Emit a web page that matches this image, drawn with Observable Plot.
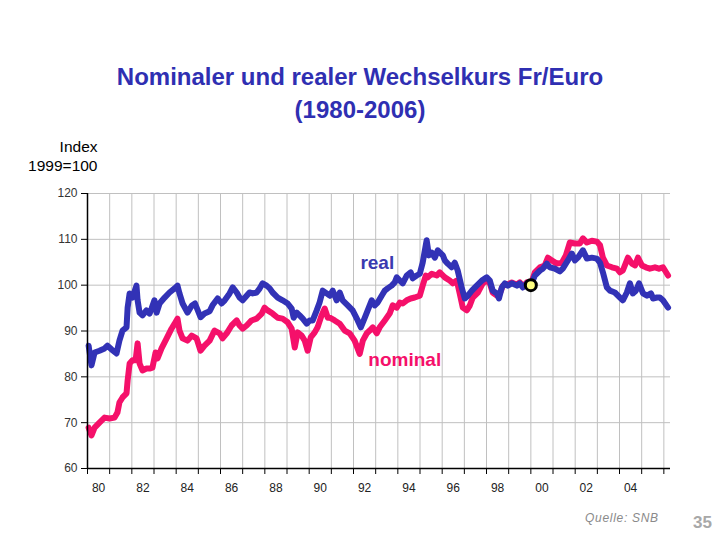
<!DOCTYPE html>
<html>
<head>
<meta charset="utf-8">
<script src="https://cdn.jsdelivr.net/npm/d3@7"></script>
<script src="https://cdn.jsdelivr.net/npm/@observablehq/plot@0.6"></script>
<style>
  html, body { margin: 0; padding: 0; background: #fff; }
  body { width: 720px; height: 540px; position: relative; overflow: hidden; font-family: "Liberation Sans", Arial, sans-serif; }
  #title { position: absolute; top: 0; left: 0; width: 720px; height: 130px; box-sizing: border-box; padding-top: 60px; text-align: center; color: #2f2fb2; font-weight: bold; font-size: 24px; line-height: 33px; }
  #chart { position: absolute; top: 130px; left: 0; }
  #source { position: absolute; left: 585px; top: 511px; font-size: 12px; font-style: italic; color: #8a8a8a; letter-spacing: 0.7px; }
  #page { position: absolute; left: 693px; top: 513px; font-size: 17px; font-weight: bold; color: #a8a8a8; }
</style>
</head>
<body>
<div id="title">Nominaler und realer Wechselkurs Fr/Euro<br>(1980-2006)</div>
<div id="chart"></div>
<div id="source">Quelle: SNB</div>
<div id="page">35</div>
<script>
// Real exchange rate index (year, value)
const realSeries = [
  [1980.05, 86.8], [1980.18, 82.5], [1980.32, 85.3], [1980.54, 85.7], [1980.77, 86.2], [1980.90, 86.8],
  [1981.08, 86.0], [1981.31, 85.1], [1981.44, 87.9], [1981.58, 90.1], [1981.76, 90.8], [1981.81, 95.1],
  [1981.90, 98.2], [1982.03, 97.3], [1982.21, 99.9], [1982.26, 96.7], [1982.35, 94.0], [1982.48, 93.4],
  [1982.66, 94.5], [1982.80, 93.8], [1982.89, 94.9], [1983.02, 96.7], [1983.12, 94.0], [1983.25, 96.0],
  [1983.48, 97.3], [1983.70, 98.4], [1983.93, 99.3], [1984.06, 99.9], [1984.15, 98.2], [1984.29, 96.0],
  [1984.51, 94.0], [1984.70, 95.5], [1984.85, 96.0], [1985.10, 93.0], [1985.28, 93.8], [1985.51, 94.3],
  [1985.64, 95.6], [1985.87, 97.1], [1986.05, 96.0], [1986.19, 96.7], [1986.41, 98.2], [1986.55, 99.5],
  [1986.73, 98.4], [1986.86, 97.3], [1987.00, 96.7], [1987.18, 97.7], [1987.31, 98.4], [1987.45, 98.2],
  [1987.63, 98.4], [1987.77, 99.3], [1987.90, 100.4], [1988.08, 99.9], [1988.22, 99.3], [1988.35, 98.4],
  [1988.58, 97.3], [1988.80, 96.7], [1989.03, 96.0], [1989.21, 94.9], [1989.30, 92.9], [1989.44, 94.0],
  [1989.57, 93.4], [1989.71, 92.7], [1989.89, 91.6], [1990.02, 92.3], [1990.16, 92.3], [1990.34, 94.5],
  [1990.47, 96.2], [1990.61, 98.8], [1990.79, 98.2], [1990.93, 97.7], [1991.06, 98.8], [1991.24, 96.7],
  [1991.38, 98.4], [1991.51, 96.7], [1991.74, 95.6], [1991.96, 94.5], [1992.19, 92.3], [1992.33, 90.8],
  [1992.51, 92.9], [1992.64, 94.5], [1992.82, 96.7], [1992.96, 95.6], [1993.09, 96.2], [1993.27, 97.7],
  [1993.41, 98.8], [1993.54, 99.3], [1993.72, 99.9], [1993.86, 100.6], [1993.95, 101.7], [1994.09, 101.0],
  [1994.22, 100.4], [1994.40, 102.1], [1994.58, 102.8], [1994.67, 101.5], [1994.85, 102.1], [1994.99, 102.5],
  [1995.12, 104.9], [1995.30, 109.8], [1995.40, 106.5], [1995.53, 107.1], [1995.67, 106.0], [1995.80, 107.6],
  [1996.03, 106.5], [1996.12, 105.4], [1996.25, 104.7], [1996.43, 103.9], [1996.57, 104.9], [1996.70, 103.2],
  [1996.88, 99.5], [1997.02, 97.1], [1997.16, 97.7], [1997.34, 98.8], [1997.56, 99.9], [1997.79, 101.0],
  [1998.01, 101.7], [1998.15, 101.0], [1998.28, 98.8], [1998.47, 98.2], [1998.56, 97.1], [1998.69, 99.5],
  [1998.83, 100.4], [1998.96, 99.9], [1999.14, 100.4], [1999.37, 99.9], [1999.50, 100.4], [1999.64, 99.5],
  [1999.82, 100.4], [2000.00, 100.0], [2000.18, 102.1], [2000.41, 103.2], [2000.54, 103.6], [2000.72, 104.7],
  [2000.86, 103.9], [2001.08, 103.6], [2001.31, 103.0], [2001.44, 103.6], [2001.67, 105.4], [2001.85, 106.9],
  [2001.99, 105.4], [2002.12, 106.0], [2002.35, 107.6], [2002.53, 105.8], [2002.75, 106.0], [2002.98, 105.8],
  [2003.12, 104.9], [2003.25, 102.8], [2003.43, 99.5], [2003.57, 98.8], [2003.79, 98.4], [2004.02, 97.3],
  [2004.15, 96.7], [2004.33, 98.4], [2004.47, 100.4], [2004.60, 98.2], [2004.74, 98.8], [2004.88, 100.4],
  [2005.06, 98.2], [2005.24, 97.7], [2005.42, 98.2], [2005.51, 97.1], [2005.69, 97.3], [2005.82, 97.3],
  [2005.96, 96.7], [2006.19, 95.1]
];

// Nominal exchange rate index (year, value)
const nominalSeries = [
  [1980.05, 68.9], [1980.18, 67.2], [1980.32, 68.9], [1980.54, 70.0], [1980.77, 71.1], [1980.99, 70.9],
  [1981.22, 71.1], [1981.35, 72.2], [1981.44, 74.4], [1981.58, 75.5], [1981.76, 76.4], [1981.81, 79.2],
  [1981.90, 82.9], [1982.03, 83.6], [1982.17, 83.6], [1982.26, 87.3], [1982.35, 82.9], [1982.48, 81.4],
  [1982.66, 81.8], [1982.80, 81.8], [1982.93, 82.0], [1983.07, 85.3], [1983.16, 84.0], [1983.34, 86.2],
  [1983.57, 88.4], [1983.79, 90.5], [1983.93, 91.6], [1984.06, 92.7], [1984.15, 90.1], [1984.29, 88.4],
  [1984.51, 87.9], [1984.70, 89.0], [1984.92, 88.4], [1985.10, 85.7], [1985.28, 86.8], [1985.51, 87.9],
  [1985.73, 90.1], [1985.96, 89.5], [1986.09, 88.4], [1986.28, 89.5], [1986.50, 91.2], [1986.73, 92.3],
  [1986.86, 91.2], [1987.00, 90.5], [1987.18, 91.2], [1987.40, 92.3], [1987.63, 92.7], [1987.86, 93.8],
  [1987.99, 95.1], [1988.13, 94.5], [1988.35, 93.8], [1988.58, 92.9], [1988.80, 92.7], [1989.03, 91.9],
  [1989.21, 90.5], [1989.35, 86.4], [1989.48, 89.7], [1989.66, 89.0], [1989.80, 87.9], [1989.93, 85.7],
  [1990.07, 88.6], [1990.25, 89.7], [1990.38, 90.8], [1990.56, 93.4], [1990.70, 94.9], [1990.84, 92.9],
  [1990.93, 92.9], [1991.15, 92.3], [1991.38, 91.6], [1991.60, 90.1], [1991.83, 89.5], [1992.05, 87.9],
  [1992.28, 85.0], [1992.42, 87.9], [1992.60, 89.5], [1992.73, 90.1], [1992.87, 90.8], [1993.05, 89.5],
  [1993.18, 90.8], [1993.41, 92.3], [1993.63, 93.8], [1993.77, 95.6], [1993.95, 95.1], [1994.09, 96.2],
  [1994.22, 96.0], [1994.40, 96.7], [1994.58, 97.1], [1994.76, 97.3], [1994.99, 97.7], [1995.12, 99.9],
  [1995.26, 102.1], [1995.35, 101.7], [1995.53, 102.5], [1995.76, 102.1], [1995.89, 102.8], [1996.12, 101.7],
  [1996.34, 101.0], [1996.48, 100.4], [1996.66, 101.0], [1996.79, 98.2], [1996.93, 95.1], [1997.11, 94.5],
  [1997.25, 95.6], [1997.38, 97.3], [1997.61, 98.4], [1997.83, 100.4], [1998.01, 101.0], [1998.15, 100.4],
  [1998.28, 98.4], [1998.47, 97.7], [1998.60, 98.2], [1998.74, 99.9], [1998.96, 100.2], [1999.14, 100.6],
  [1999.37, 100.1], [1999.50, 100.6], [1999.64, 99.7], [1999.82, 100.6], [2000.00, 100.2], [2000.18, 102.8],
  [2000.41, 103.9], [2000.63, 104.3], [2000.77, 106.0], [2000.95, 105.4], [2001.17, 104.7], [2001.40, 104.9],
  [2001.58, 106.5], [2001.72, 108.7], [2001.76, 109.3], [2001.99, 109.1], [2002.21, 109.1], [2002.35, 110.2],
  [2002.53, 109.3], [2002.75, 109.7], [2002.98, 109.5], [2003.12, 108.7], [2003.25, 106.0], [2003.43, 104.3],
  [2003.66, 103.9], [2003.88, 103.6], [2004.02, 102.8], [2004.15, 103.2], [2004.38, 106.0], [2004.56, 104.7],
  [2004.70, 104.3], [2004.83, 106.0], [2005.01, 104.3], [2005.19, 103.9], [2005.37, 103.6], [2005.60, 103.9],
  [2005.78, 103.6], [2005.96, 103.9], [2006.19, 102.1]
];

// Base point marker (1999=100)
const basePoint = [[2000.0, 100]];

// Axis ticks and labels
const yTicks = [60, 70, 80, 90, 100, 110, 120];
const xTickYears = d3.range(1980, 2007);
const xLabelYears = [1980.5, 1982.5, 1984.5, 1986.5, 1988.5, 1990.5, 1992.5, 1994.5, 1996.5, 1998.5, 2000.5, 2002.5, 2004.5];
const xLabels = ["80", "82", "84", "86", "88", "90", "92", "94", "96", "98", "00", "02", "04"];
const labelMap = new Map(xLabelYears.map((y, i) => [y, xLabels[i]]));

const blue = "#3232b6";
const pink = "#f5106a";

const chart = Plot.plot({
  width: 720,
  height: 410,
  marginTop: 63,
  marginBottom: 72,
  marginLeft: 87,
  marginRight: 50,
  x: { domain: [1980, 2006.3] },
  y: { domain: [60, 120] },
  style: { fontFamily: "'Liberation Sans', Arial, sans-serif", fontSize: "12px", color: "#222", background: "white", overflow: "visible" },
  marks: [
    Plot.gridX(xTickYears, { stroke: "#c0c0c0", strokeOpacity: 1, strokeWidth: 1 }),
    Plot.gridY(yTicks, { stroke: "#c0c0c0", strokeOpacity: 1, strokeWidth: 1 }),
    Plot.line(nominalSeries, { x: d => d[0], y: d => d[1], stroke: pink, strokeWidth: 6, strokeLinejoin: "round", strokeLinecap: "round" }),
    Plot.line(realSeries, { x: d => d[0], y: d => d[1], stroke: blue, strokeWidth: 6, strokeLinejoin: "round", strokeLinecap: "round" }),
    Plot.ruleX([1980], { stroke: "black", strokeWidth: 1.5 }),
    Plot.ruleY([60], { stroke: "black", strokeWidth: 1.5 }),
    Plot.axisY(yTicks, { tickSize: 6, tickPadding: 4, label: null, stroke: "black", fill: "#333" }),
    Plot.axisX(xTickYears, { tickSize: 6, tickFormat: () => "", label: null, stroke: "black" }),
    Plot.axisX(xLabelYears, { tickSize: 0, tickPadding: 15, tickFormat: d => labelMap.get(d), label: null, fill: "#222" }),
    Plot.dot(basePoint, { x: d => d[0], y: d => d[1], r: 5.5, fill: "#ffff80", stroke: "black", strokeWidth: 3 }),
    Plot.text(["real"], { x: 1992.31, y: 104.8, text: d => d, textAnchor: "start", fill: "#3a3ab0", fontSize: 19, fontWeight: "bold" }),
    Plot.text(["nominal"], { x: 1992.67, y: 83.6, text: d => d, textAnchor: "start", fill: "#f5106a", fontSize: 19, fontWeight: "bold" }),
    Plot.text(["Index\n1999=100"], { frameAnchor: "top-left", dx: 10, dy: -54, text: d => d, textAnchor: "end", lineAnchor: "top", fontSize: 15.5, lineHeight: 1.17, fill: "black" })
  ]
});
document.getElementById("chart").appendChild(chart);
</script>
</body>
</html>
